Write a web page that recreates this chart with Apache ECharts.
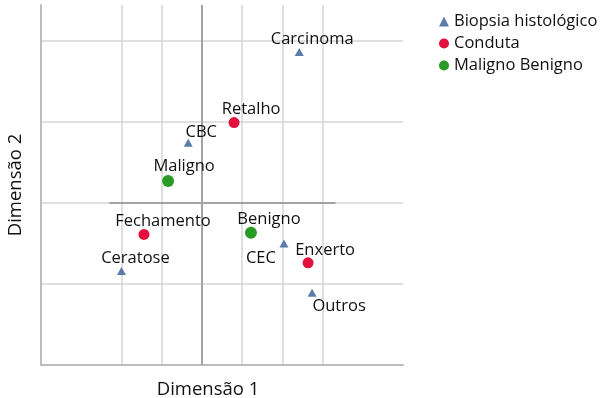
<!DOCTYPE html>
<html>
<head>
<meta charset="utf-8">
<script src="https://cdn.jsdelivr.net/npm/echarts@6/dist/echarts.min.js"></script>
<style>html,body{margin:0;padding:0;background:#fff}#c{width:600px;height:398px}</style>
</head>
<body>
<div id="c"></div>
<script>
// ---- data ----
var biopsiaNames = ['Carcinoma', 'CBC', 'Ceratose', 'CEC', 'Outros'];
var biopsiaX = [1.21, -0.17, -1.00, 1.02, 1.37];
var biopsiaY = [1.86, 0.74, -0.84, -0.50, -1.11];
var condutaNames = ['Retalho', 'Fechamento', 'Enxerto'];
var condutaX = [0.40, -0.72, 1.32];
var condutaY = [0.99, -0.39, -0.74];
var malBenNames = ['Maligno', 'Benigno'];
var malBenX = [-0.42, 0.61];
var malBenY = [0.27, -0.37];
var seriesNames = ['Biopsia histológico', 'Conduta', 'Maligno Benigno'];
var refLineX = [-1.15, 1.66];
var xRange = [-2, 2.5];
var yRange = [-2, 2.44];
var axisNames = ['Dimensão 1', 'Dimensão 2'];

// ---- styles ----
var labelOffsets = {
  'Carcinoma': [13, -13], 'CBC': [13, -11], 'Ceratose': [14, -13], 'CEC': [-23, 15], 'Outros': [27, 13],
  'Retalho': [17, -13], 'Fechamento': [19, -13], 'Enxerto': [17, -13],
  'Maligno': [16, -15], 'Benigno': [18, -14]
};
var FONT = '"Open Sans", "Noto Sans", sans-serif';
var G = '#d6d6d6';
var TXT = '#111';

function build(names, xs, ys) {
  return names.map(function (n, i) {
    return {
      name: n, value: [xs[i], ys[i]],
      label: { offset: labelOffsets[n] }
    };
  });
}
var labelStyle = {
  show: true, position: 'inside', formatter: '{b}',
  fontSize: 16.5, fontFamily: FONT, color: TXT
};

var chart = echarts.init(document.getElementById('c'), null, { renderer: 'canvas' });
chart.setOption({
  backgroundColor: '#fff',
  animation: false,
  grid: { left: 41, right: 197, top: 5, bottom: 33, containLabel: false, outerBoundsMode: 'none' },
  legend: {
    orient: 'vertical', left: 434, top: 8, itemWidth: 10, itemHeight: 10, itemGap: 5,
    textStyle: { fontSize: 16.5, fontFamily: FONT, color: TXT },
    data: [
      { name: seriesNames[0], icon: 'triangle', itemStyle: { color: '#5b7bab' } },
      { name: seriesNames[1], icon: 'circle' },
      { name: seriesNames[2], icon: 'circle' }
    ]
  },
  xAxis: {
    type: 'value', min: xRange[0], max: xRange[1], interval: 0.5,
    name: axisNames[0], nameLocation: 'middle', nameGap: 15,
    nameTextStyle: { fontSize: 18.5, fontFamily: FONT, color: TXT, padding: [0, 28, 0, 0] },
    axisLine: { show: true, onZero: false, lineStyle: { color: '#bdbdbd', width: 2 } },
    axisTick: { show: false }, axisLabel: { show: false },
    splitLine: { show: true, lineStyle: { width: 1.5, color: ['transparent', 'transparent', G, G, 'transparent', G, G, G, 'transparent', 'transparent'] } }
  },
  yAxis: {
    type: 'value', min: yRange[0], max: yRange[1], interval: 1,
    name: axisNames[1], nameLocation: 'middle', nameGap: 16,
    nameTextStyle: { fontSize: 18.5, fontFamily: FONT, color: TXT },
    axisLine: { show: true, onZero: false, lineStyle: { color: '#bdbdbd', width: 2 } },
    axisTick: { show: false }, axisLabel: { show: false },
    splitLine: { show: true, showMaxLine: false, lineStyle: { width: 1.5, color: ['transparent', G, G, G, G, 'transparent'] } }
  },
  series: [
    {
      name: seriesNames[0], type: 'scatter', symbol: 'triangle', symbolSize: [9, 8],
      itemStyle: { color: '#5b7bab', opacity: 1 },
      label: labelStyle,
      data: build(biopsiaNames, biopsiaX, biopsiaY),
      z: 5,
      markLine: {
        silent: true, symbol: 'none', label: { show: false },
        lineStyle: { color: '#a3a3a3', width: 2, type: 'solid' },
        data: [
          { xAxis: 0 },
          [{ coord: [refLineX[0], 0] }, { coord: [refLineX[1], 0] }]
        ],
        z: 1
      }
    },
    {
      name: seriesNames[1], type: 'scatter', symbol: 'circle', symbolSize: 11,
      itemStyle: { color: '#e3103d', opacity: 1 },
      label: labelStyle,
      data: build(condutaNames, condutaX, condutaY), z: 5
    },
    {
      name: seriesNames[2], type: 'scatter', symbol: 'circle', symbolSize: 12,
      itemStyle: { color: '#2a9a26', opacity: 1 },
      label: labelStyle,
      data: build(malBenNames, malBenX, malBenY), z: 5
    }
  ]
});
</script>
</body>
</html>
